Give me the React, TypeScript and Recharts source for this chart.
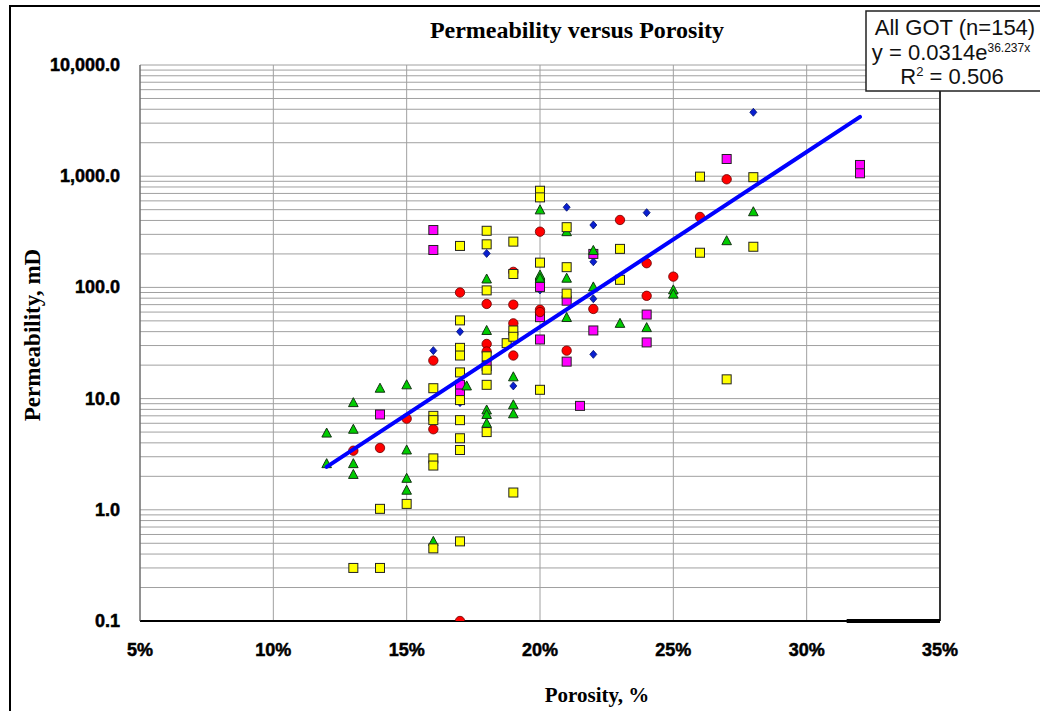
import React from 'react';
import { ScatterChart, Scatter, XAxis, YAxis, CartesianGrid, ReferenceLine } from 'recharts';

// [porosity %, permeability mD] per sample group
const diamondPts = [
  [16, 27], [17, 40], [17, 9.2], [18, 202], [19, 13], [20, 95], [21, 526],
  [22, 364], [22, 170], [22, 79], [22, 25], [24, 470], [28, 3757],
];

const circlePts = [
  [13, 3.4], [14, 3.6], [15, 6.6], [16, 22], [16, 5.3], [17, 90], [17, 0.1],
  [18, 71], [18, 31], [18, 26.5], [19, 138], [19, 70], [19, 47.5], [19, 24.4],
  [20, 317], [20, 63], [20, 60], [21, 27], [22, 64], [23, 404], [24, 165],
  [24, 84], [25, 125], [26, 430], [27, 938],
];

const yellowPts = [
  [13, 0.3], [14, 1.02], [14, 0.3], [15, 1.13], [16, 12.4], [16, 7.0], [16, 6.4],
  [16, 2.9], [16, 2.5], [16, 0.45], [17, 236], [17, 50.5], [17, 28.6], [17, 24.4],
  [17, 17.2], [17, 9.7], [17, 6.4], [17, 4.4], [17, 3.45], [17, 0.52], [18, 323],
  [18, 244], [18, 94], [18, 24], [18, 18.2], [18, 13.3], [18, 5.0], [18.75, 31.5],
  [19, 258], [19, 132], [19, 41], [19, 36], [19, 1.43], [20, 740], [20, 645],
  [20, 167], [20, 12], [21, 348], [21, 152], [21, 88], [23, 222], [23, 117],
  [26, 991], [26, 205], [27, 14.9], [28, 980], [28, 232],
];

const magentaPts = [
  [14, 7.2], [16, 328], [16, 217], [17, 13.3], [17, 11.1], [18, 19.6], [20, 109],
  [20, 101], [20, 54], [20, 34], [21, 76], [21, 21.5], [21.5, 8.6], [22, 200],
  [22, 41], [24, 57], [24, 32], [27, 1428], [32, 1262], [32, 1062],
];

const trianglePts = [
  [12, 4.9], [12, 2.6], [13, 9.2], [13, 5.3], [13, 2.6], [13, 2.08], [14, 12.4],
  [15, 13.3], [15, 3.45], [15, 1.92], [15, 1.5], [16, 0.52], [17.25, 13], [18, 119],
  [18, 41], [18, 7.9], [18, 7.2], [18, 6.0], [19, 15.7], [19, 8.8], [19, 7.3],
  [20, 498], [20, 129], [20, 121], [21, 317], [21, 121], [21, 53.6], [22, 215],
  [22, 101], [23, 47.5], [24, 43.5], [25, 95], [25, 87], [27, 263], [28, 479],
];

// exponential fit k = a * e^(b * phi), phi as a fraction
const fitA = 0.0314;
const fitB = 36.237;
const fitRange = [12, 32];

const xTicks = [5, 10, 15, 20, 25, 30, 35];
const decades = [0.1, 1, 10, 100, 1000, 10000];
const decadeLabels = ['0.1', '1.0', '10.0', '100.0', '1,000.0', '10,000.0'];
const minorSteps = [2, 3, 4, 5, 6, 7, 8, 9];

const yTicks = decades.flatMap((d, i) =>
  i < decades.length - 1 ? [d, ...minorSteps.map((m) => d * m)] : [d]
);

const toPoints = (pts: number[][]) => pts.map(([phi, k]) => ({ phi, k }));
const trendPts = fitRange.map((phi) => ({ phi, k: fitA * Math.exp(fitB * (phi / 100)) }));

const GRID = '#a0a0a0';
const tickFont = { fontFamily: '"Liberation Sans", Arial, sans-serif', fontWeight: 700, fontSize: 18 };
const serif = '"Liberation Serif", "Times New Roman", serif';

function YTick({ x, y, payload }: any) {
  const idx = decades.findIndex((d) => Math.abs(d - payload.value) < d * 1e-6);
  if (idx < 0) return null;
  return (
    <text x={x - 20} y={y + 6} textAnchor="end" fill="#000" stroke="#000" strokeWidth={0.5} style={tickFont}>
      {decadeLabels[idx]}
    </text>
  );
}

function XTick({ x, y, payload }: any) {
  return (
    <text x={x} y={y + 35} textAnchor="middle" fill="#000" stroke="#000" strokeWidth={0.5} style={tickFont}>
      {`${payload.value}%`}
    </text>
  );
}

const Square = (fill: string) => (p: any) => (
  <rect x={p.cx - 4.5} y={p.cy - 4.5} width={9} height={9} fill={fill} stroke="#222" strokeWidth={1} />
);

const Circle = (p: any) => <circle cx={p.cx} cy={p.cy} r={4.7} fill="#ff0000" stroke="#600" strokeWidth={0.8} />;

const Diamond = (p: any) => (
  <path
    d={`M${p.cx},${p.cy - 4} L${p.cx + 3.5},${p.cy} L${p.cx},${p.cy + 4} L${p.cx - 3.5},${p.cy} Z`}
    fill="#0a1fd0"
    stroke="#001070"
    strokeWidth={0.8}
  />
);

const Triangle = (p: any) => (
  <path
    d={`M${p.cx},${p.cy - 5} L${p.cx + 4.8},${p.cy + 4} L${p.cx - 4.8},${p.cy + 4} Z`}
    fill="#00cc00"
    stroke="#143214"
    strokeWidth={1}
  />
);

export default function App() {
  return (
    <div style={{ position: 'absolute', left: 0, top: 0, width: 1040, height: 711, background: '#fff', overflow: 'hidden' }}>
      <div
        style={{
          position: 'absolute',
          left: 9,
          top: 5,
          width: 1100,
          height: 800,
          borderLeft: '2px solid #000',
          borderTop: '2px solid #000',
        }}
      />
      <div style={{ position: 'absolute', left: 0, top: 0 }}>
        <ScatterChart width={1040} height={711} margin={{ top: 65, right: 100, bottom: 50, left: 30 }}>
          <CartesianGrid stroke={GRID} strokeWidth={1} />
          <XAxis
            dataKey="phi"
            type="number"
            domain={[5, 35]}
            ticks={xTicks}
            tick={<XTick />}
            tickSize={0}
            tickMargin={0}
            tickLine={false}
            height={40}
            axisLine={{ stroke: '#000', strokeWidth: 2 }}
            allowDataOverflow
          />
          <YAxis
            dataKey="k"
            type="number"
            scale="log"
            domain={[0.1, 10000]}
            ticks={yTicks}
            tick={<YTick />}
            tickSize={0}
            tickMargin={0}
            tickLine={false}
            width={110}
            interval={0}
            axisLine={{ stroke: '#555', strokeWidth: 1 }}
            allowDataOverflow
          />
          <ReferenceLine x={35} stroke="#333" strokeWidth={2} />
          <ReferenceLine
            segment={[{ x: 31.5, y: 0.1 }, { x: 35, y: 0.1 }]}
            stroke="#000"
            strokeWidth={4}
          />
          <Scatter data={toPoints(diamondPts)} shape={Diamond} isAnimationActive={false} />
          <Scatter data={toPoints(magentaPts)} shape={Square('#ff00ff')} isAnimationActive={false} />
          <Scatter data={toPoints(trianglePts)} shape={Triangle} isAnimationActive={false} />
          <Scatter data={toPoints(circlePts)} shape={Circle} isAnimationActive={false} />
          <Scatter data={toPoints(yellowPts)} shape={Square('#ffff00')} isAnimationActive={false} />
          <Scatter
            data={trendPts}
            shape={() => <g />}
            line={{ stroke: '#0000ff', strokeWidth: 4, strokeLinecap: 'round' }}
            isAnimationActive={false}
          />
        </ScatterChart>
      </div>
      <svg width={1040} height={711} style={{ position: 'absolute', left: 0, top: 0, pointerEvents: 'none' }}>
        <text x={577} y={38} textAnchor="middle" fontFamily={serif} fontWeight={700} fontSize={24}>
          Permeability versus Porosity
        </text>
        <text
          transform="translate(40,335) rotate(-90)"
          textAnchor="middle"
          fontFamily={serif}
          fontWeight={700}
          fontSize={23}
        >
          Permeability, mD
        </text>
        <text x={597} y={702} textAnchor="middle" fontFamily={serif} fontWeight={700} fontSize={21}>
          Porosity, %
        </text>
        <rect x={866} y={11} width={180} height={80} fill="#fff" stroke="#222" strokeWidth={1.5} />
        <g fontFamily='"Liberation Sans", Arial, sans-serif' fontSize={22} textAnchor="middle" fill="#111">
          <text x={955} y={35}>All GOT (n=154)</text>
          <text x={951} y={60}>
            y = 0.0314e<tspan fontSize={12} dy={-8}>36.237x</tspan>
          </text>
          <text x={952} y={84}>
            R<tspan fontSize={13} dy={-8}>2</tspan>
            <tspan dy={8}> = 0.506</tspan>
          </text>
        </g>
      </svg>
    </div>
  );
}
